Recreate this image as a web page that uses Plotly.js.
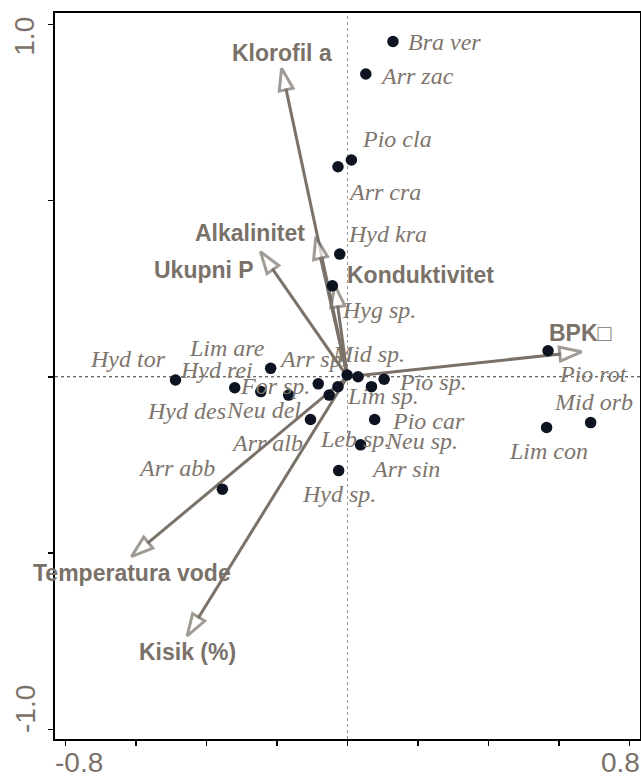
<!DOCTYPE html>
<html><head><meta charset="utf-8">
<script src="https://cdn.plot.ly/plotly-3.0.1.min.js"></script>
<style>html,body{margin:0;padding:0;background:#fff}</style>
</head><body>
<div id="chart" style="width:641px;height:780px"></div>
<script>
// ---- data ----
const species = ['Bra ver','Arr zac','Pio cla','Arr cra','Hyd kra','Hyg sp.','Mid sp.','Lim sp.','Pio sp.','Neu sp.','Pio car','Arr sin','Hyd sp.','Leb sp.','Pio rot','Lim con','Mid orb','Hyd tor','Lim are','Hyd rei','Hyd des','For sp.','Neu del','Arr alb','Arr abb','Arr sp.'];
const speciesX = [0.129,0.052,0.011,-0.027,-0.022,-0.043,-0.001,0.030,0.104,0.068,0.077,0.037,-0.025,-0.027,0.569,0.565,0.690,-0.488,-0.218,-0.320,-0.246,-0.167,-0.052,-0.105,-0.355,-0.083];
const speciesY = [0.951,0.859,0.615,0.596,0.348,0.258,0.005,0.000,-0.007,-0.028,-0.121,-0.193,-0.266,-0.028,0.074,-0.144,-0.130,-0.009,0.024,-0.031,-0.042,-0.052,-0.052,-0.121,-0.319,-0.020];

const envNames = ['Klorofil a','Alkalinitet','Ukupni P','Konduktivitet','BPK\u25A1','Temperatura vode','Kisik (%)'];
const envX = [-0.187,-0.090,-0.247,-0.036,0.664,-0.613,-0.455];
const envY = [0.875,0.397,0.355,0.260,0.071,-0.510,-0.735];

const xTickVals = [-0.8,-0.6,-0.4,-0.2,0,0.2,0.4,0.6,0.8];
const xTickText = ['-0.8','','','','','','','','0.8'];
const yTickVals = [-1.0,-0.5,0,0.5,1.0];
const yTickText = ['-1.0','','','','1.0'];

// ---- label placement (pixel offsets from the point: [dx, dy down]) ----
const speciesLabelShift = [[12.7,0.8],[12.3,1.8],[8.3,-21.3],[7.7,25],[6.7,-20],[8,24],[-17.3,-21],[-13.3,19.3],[12.7,3.2],[11.3,54.3],[15,1.7],[8.3,24],[-39,23.3],[-20.3,52.3],[8.7,23.3],[-39.7,23.3],[-39,-20.2],[-87.7,-21],[-84,-20.8],[-57,-17.7],[-116,19.3],[-51,-9],[-105.3,15],[-81.7,23.7],[-86.7,-21.3],[-41.3,-25]];
const envLabelPos = [['center',0.3,-15.3],['right',-8.7,-3.4],['right',-4,18.3],['left',10,-10.3],['center',-1.2,-18.4],['center',0.8,16.6],['center',0.2,15.7]];

const GREY = '#7a7169';
const traces = [];
envNames.forEach((n,i)=>{
  traces.push({
    type:'scatter', mode:'lines+markers', x:[0,envX[i]], y:[0,envY[i]],
    line:{color:GREY,width:3},
    marker:{symbol:['circle','arrow'], size:[0,23], color:'#ffffff', angleref:'previous',
            line:{color:GREY,width:3}},
    hoverinfo:'skip', showlegend:false, cliponaxis:false
  });
});
traces.push({
  type:'scatter', mode:'markers', x:speciesX, y:speciesY,
  marker:{color:'#0d1320', size:11.5}, hoverinfo:'skip', showlegend:false
});

const annotations = [];
species.forEach((s,i)=>{
  annotations.push({x:speciesX[i], y:speciesY[i], xref:'x', yref:'y', text:s, showarrow:false,
    xanchor:'left', yanchor:'middle', xshift:speciesLabelShift[i][0], yshift:-speciesLabelShift[i][1],
    font:{family:'Liberation Serif, Times New Roman, serif', size:24, color:'#7d756d', style:'italic'}});
});
envNames.forEach((n,i)=>{
  annotations.push({x:envX[i], y:envY[i], xref:'x', yref:'y', text:'<b>'+n+'</b>', showarrow:false,
    xanchor:envLabelPos[i][0], yanchor:'middle', xshift:envLabelPos[i][1], yshift:-envLabelPos[i][2],
    font:{family:'Liberation Sans, Arial, sans-serif', size:23, color:GREY}});
});
// end tick labels (drawn inside the axis extent, as in the original)
const xTickFont = {family:'Liberation Sans, Arial, sans-serif', size:28, color:GREY};
const yTickFont = {family:'Liberation Sans, Arial, sans-serif', size:28, color:GREY};
annotations.push({xref:'paper', yref:'paper', x:0, y:0, text:xTickText[0], showarrow:false, xanchor:'left', yanchor:'middle', xshift:-2, yshift:-23, font:xTickFont});
annotations.push({xref:'paper', yref:'paper', x:1, y:0, text:xTickText[xTickText.length-1], showarrow:false, xanchor:'right', yanchor:'middle', xshift:2, yshift:-23, font:xTickFont});
annotations.push({xref:'paper', yref:'paper', x:0, y:1, text:yTickText[yTickText.length-1], showarrow:false, xanchor:'center', yanchor:'middle', textangle:-90, xshift:-30, yshift:-23.7, font:yTickFont});
annotations.push({xref:'paper', yref:'paper', x:0, y:0, text:yTickText[0], showarrow:false, xanchor:'center', yanchor:'middle', textangle:-90, xshift:-30, yshift:30, font:yTickFont});

const layout = {
  width:641, height:780,
  margin:{l:55, r:1, t:13, b:41, pad:0},
  paper_bgcolor:'#ffffff', plot_bgcolor:'#ffffff',
  showlegend:false,
  xaxis:{range:[-0.830,0.830], tickvals:xTickVals, ticktext:xTickText, showticklabels:false,
         ticks:'outside', ticklen:5, tickwidth:1.5, tickcolor:'#000',
         showline:true, linecolor:'#000', linewidth:2, mirror:true,
         showgrid:false, zeroline:false, fixedrange:true},
  yaxis:{range:[-1.0275,1.032], tickvals:yTickVals, ticktext:yTickText, showticklabels:false,
         ticks:'outside', ticklen:5, tickwidth:1.5, tickcolor:'#000',
         showline:true, linecolor:'#000', linewidth:2, mirror:true,
         showgrid:false, zeroline:false, fixedrange:true},
  shapes:[
    {type:'line', xref:'x', yref:'paper', x0:0, x1:0, y0:0, y1:1, line:{color:'#999', width:1, dash:'dot'}, layer:'below'},
    {type:'line', xref:'paper', yref:'y', x0:0, x1:1, y0:0, y1:0, line:{color:'#333', width:1, dash:'dot'}, layer:'below'}
  ],
  annotations:annotations
};
Plotly.newPlot('chart', traces, layout, {staticPlot:true, displayModeBar:false});
</script>
</body></html>
